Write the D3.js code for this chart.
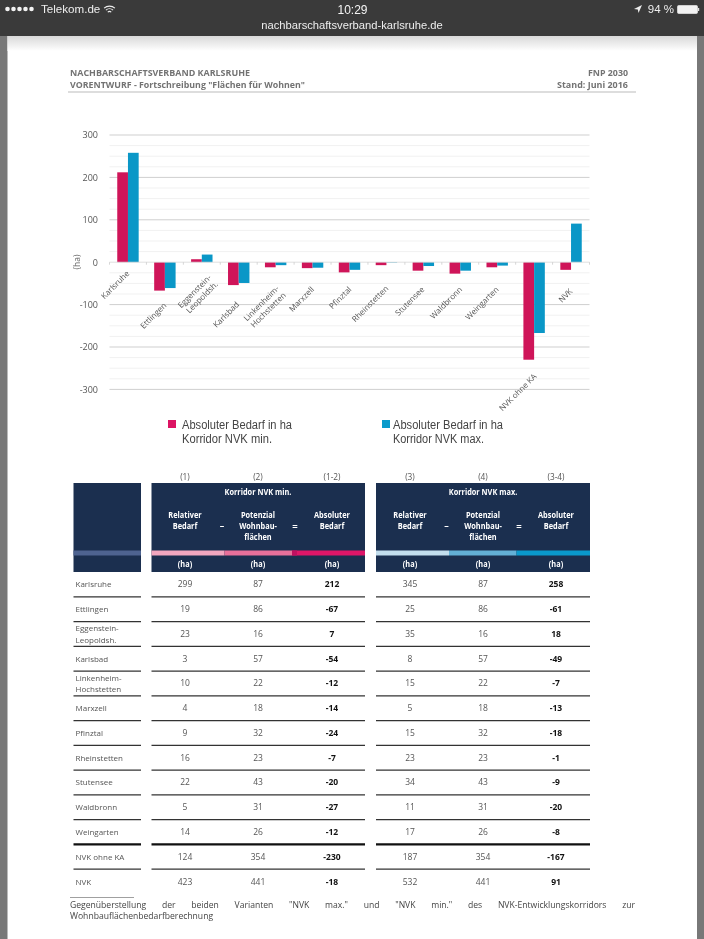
<!DOCTYPE html>
<html><head><meta charset="utf-8">
<script src="https://cdn.jsdelivr.net/npm/d3@7/dist/d3.min.js"></script>
<style>html,body{margin:0;padding:0;background:#fff}svg{display:block;filter:blur(0.35px)}</style>
</head><body><svg id="c" width="704" height="939" xmlns="http://www.w3.org/2000/svg"></svg>
<script>
// ---- data ----
const chartCategories = ["Karlsruhe","Ettlingen","Eggenstein-|Leopoldsh.","Karlsbad","Linkenheim-|Hochstetten","Marxzell","Pfinztal","Rheinstetten","Stutensee","Waldbronn","Weingarten","NVK ohne KA","NVK"];
const rowLabels = ["Karlsruhe","Ettlingen","Eggenstein-|Leopoldsh.","Karlsbad","Linkenheim-|Hochstetten","Marxzell","Pfinztal","Rheinstetten","Stutensee","Waldbronn","Weingarten","NVK ohne KA","NVK"];
const relMin = [299,19,23,3,10,4,9,16,22,5,14,124,423];
const relMax = [345,25,35,8,15,5,15,23,34,11,17,187,532];
const potenzial = [87,86,16,57,22,18,32,23,43,31,26,354,441];
const absMin = [212,-67,7,-54,-12,-14,-24,-7,-20,-27,-12,-230,-18];
const absMax = [258,-61,18,-49,-7,-13,-18,-1,-9,-20,-8,-167,91];
const yTicks = [300,200,100,0,-100,-200,-300];
const legendLabels = [["Absoluter Bedarf in ha","Korridor NVK min."],["Absoluter Bedarf in ha","Korridor NVK max."]];

// ---- layout ----
const SANS = "'Open Sans','Noto Sans',sans-serif", IOS = "'Liberation Sans',Arial,sans-serif";
const svg = d3.select("#c");
const add = (t,a,p=svg)=>{const e=p.append(t);for(const k in a)e.attr(k,a[k]);return e;};
const txt=(s,x,y,a={},p=svg)=>add("text",Object.assign({x,y,"font-family":SANS,"font-size":8.5,fill:"#3a3a3a"},a),p).text(s);

// page frame
add("rect",{x:0,y:0,width:704,height:939,fill:"#fff"});
add("rect",{x:0,y:36,width:7.5,height:903,fill:"#787878"});
add("rect",{x:697,y:36,width:7,height:903,fill:"#787878"});
const defs=svg.append("defs");
const g=defs.append("linearGradient").attr("id","sh").attr("x1",0).attr("x2",0).attr("y1",0).attr("y2",1);
g.append("stop").attr("offset",0).attr("stop-color","#d8d8d8");
g.append("stop").attr("offset",1).attr("stop-color","#fff");
add("rect",{x:7.5,y:36,width:689.5,height:15,fill:"url(#sh)"});
add("rect",{x:0,y:0,width:704,height:36,fill:"#3a3a3a"});

// status bar
const sb = svg.append("g");
d3.range(5).forEach(i=>add("circle",{cx:7.5+i*6,cy:9,r:2.3,fill:"#f2f2f2"},sb));
txt("Telekom.de",41,13,{"font-family":IOS,"font-size":11.6,fill:"#eee"},sb);
const wifi=sb.append("g").attr("transform","translate(109.5,14)").attr("fill","none").attr("stroke","#eee").attr("stroke-width",1.1);
[2.5,5.2,7.9].forEach(r=>add("path",{d:d3.arc()({innerRadius:r,outerRadius:r,startAngle:-0.75,endAngle:0.75})},wifi));
txt("10:29",352.5,13.5,{"font-family":IOS,"font-size":12,fill:"#f4f4f4","text-anchor":"middle","font-weight":"500"},sb);
txt("nachbarschaftsverband-karlsruhe.de",352,29,{"font-family":IOS,"font-size":11.2,fill:"#eee","text-anchor":"middle"},sb);
add("path",{d:"M634 9 L642 5 L638.5 13 L637.8 9.4 Z",fill:"#eee"},sb);
txt("94 %",674,13,{"font-family":IOS,"font-size":11.5,fill:"#eee","text-anchor":"end"},sb);
add("rect",{x:677.5,y:5.5,width:20,height:8,rx:1.2,fill:"#f2f2f2",stroke:"#ddd","stroke-width":.8},sb);
add("rect",{x:698,y:8,width:1.2,height:3,fill:"#ddd"},sb);

// page header
const HD={"font-weight":700,"font-size":8.8,fill:"#737373"};
txt("NACHBARSCHAFTSVERBAND KARLSRUHE",70,76,Object.assign({textLength:180,lengthAdjust:"spacingAndGlyphs"},HD));
txt('VORENTWURF - Fortschreibung "Flächen für Wohnen"',70,88,Object.assign({textLength:235,lengthAdjust:"spacingAndGlyphs"},HD));
txt("FNP 2030",628,76,Object.assign({"text-anchor":"end",textLength:40,lengthAdjust:"spacingAndGlyphs"},HD));
txt("Stand: Juni 2016",628,88,Object.assign({"text-anchor":"end",textLength:71,lengthAdjust:"spacingAndGlyphs"},HD));
add("line",{x1:68,x2:636,y1:92,y2:92,stroke:"#bbb","stroke-width":1});

// chart
const y=d3.scaleLinear().domain([-300,300]).range([389.4,135]);
const x=d3.scaleBand().domain(d3.range(chartCategories.length)).range([109.5,589.5]);
const plot=svg.append("g");
d3.range(-300,301,25).filter(v=>v%100!==0).forEach(v=>add("line",{x1:109.5,x2:589.5,y1:y(v),y2:y(v),stroke:"#f1f1f1","stroke-width":1},plot));
yTicks.filter(v=>v!==0).forEach(v=>add("line",{x1:109.5,x2:589.5,y1:y(v),y2:y(v),stroke:"#cfcfcf","stroke-width":1},plot));
const yAxis=d3.axisLeft(y).tickValues(yTicks).tickFormat(d=>String(d)).tickSize(0).tickPadding(0);
const ya=svg.append("g").attr("transform","translate(98,0)").call(yAxis);
ya.select(".domain").remove();
ya.selectAll("text").attr("font-family",SANS).attr("font-size",9).attr("fill","#555").attr("dy","0.32em");
txt("(ha)",0,0,{transform:"translate(80,262) rotate(-90)","text-anchor":"middle","font-size":8.5,fill:"#666"});

const barW=x.bandwidth()*0.29;
const series=[[absMin,"#cf1559",-1],[absMax,"#0a97c7",0]];
series.forEach(([vals,col,off])=>{
  plot.selectAll(null).data(vals).enter().append("rect")
    .attr("x",(d,i)=>x(i)+x.bandwidth()/2+off*barW)
    .attr("width",barW)
    .attr("y",d=>y(Math.max(0,d)))
    .attr("height",d=>Math.abs(y(d)-y(0)))
    .attr("fill",col);
});
add("line",{x1:109.5,x2:589.5,y1:y(0),y2:y(0),stroke:"#d8d8d8","stroke-width":.8},plot);
d3.range(chartCategories.length+1).forEach(i=>{
  const px=109.5+i*x.step();
  add("line",{x1:px,x2:px,y1:y(0),y2:y(0)+2.5,stroke:"#ccc","stroke-width":.8},plot);
});
// end point of each rotated category label (layout, relative to the band centre)
const labelEnd=[[2,274],[2,306],[10,278],[1,305],[4,289],[2,290],[2.5,290],[2.5,289],[1.5,290],[2.5,290],[2,290],[3,377],[2,292]];
chartCategories.forEach((c,i)=>{
  const cx=x(i)+x.bandwidth()/2+labelEnd[i][0], cy=labelEnd[i][1];
  const parts=c.split("|");
  const t=add("text",{transform:`translate(${cx},${cy}) rotate(-45)`,"text-anchor":"end","font-family":SANS,"font-size":8,fill:"#555"},svg);
  parts.forEach((p,j)=>t.append("tspan").attr("x",0).attr("y",j*9.5).text(p));
});

// legend
const legendX=[[168,182],[382,393]], legendCols=["#dc1463","#0a9bcb"];
legendLabels.forEach((ls,i)=>{
  add("rect",{x:legendX[i][0],y:420,width:8,height:8,fill:legendCols[i]});
  ls.forEach((s,j)=>txt(s,legendX[i][1],428.5+j*14.2,{"font-family":IOS,"font-size":12,fill:"#444",textLength:j==0?110:(i==0?90:91),lengthAdjust:"spacingAndGlyphs"}));
});

// table header
const NAVY="#1b2f4f";
const HT=483,HB=572,STT=550.5,STB=555.5;
add("rect",{x:73.5,y:HT,width:67.5,height:HB-HT,fill:NAVY});
add("rect",{x:73.5,y:STT,width:67.5,height:STB-STT,fill:"#4e6390"});
const blocks=[
 {x0:151.5,x1:365,cols:[185,258,332],seg:[151.5,224.5,292,365],c:["#f2a7bf","#e8709a","#de1668"],nums:["(1)","(2)","(1-2)"],title:"Korridor NVK min.",ops:[222,295],dark:"#c01060"},
 {x0:376,x1:590,cols:[410,483,556],seg:[376,449,516.5,590],c:["#c3deed","#63b0d6","#0a99cc"],nums:["(3)","(4)","(3-4)"],title:"Korridor NVK max.",ops:[446.5,519],dark:null}
];
const W="#fff", HF={"text-anchor":"middle","font-weight":700,fill:W,"font-size":8.4};
const head=(s,cx,cy)=>{const t=txt(s,cx,cy,HF);t.attr("textLength",t.node().getComputedTextLength()*0.88).attr("lengthAdjust","spacingAndGlyphs");};
blocks.forEach(b=>{
  add("rect",{x:b.x0,y:HT,width:b.x1-b.x0,height:HB-HT,fill:NAVY});
  b.c.forEach((c,i)=>add("rect",{x:b.seg[i],y:STT,width:b.seg[i+1]-b.seg[i],height:STB-STT,fill:c}));
  if(b.dark) add("rect",{x:b.seg[2],y:STT,width:5,height:STB-STT,fill:b.dark});
  b.nums.forEach((n,i)=>txt(n,b.cols[i],479.5,{"text-anchor":"middle","font-size":8.3,fill:"#555"}));
  head(b.title,b.cols[1],494.5);
  const heads=[["Relativer","Bedarf"],["Potenzial","Wohnbau-","flächen"],["Absoluter","Bedarf"]];
  heads.forEach((h,i)=>h.forEach((s,j)=>head(s,b.cols[i],517.5+j*11)));
  b.cols.forEach(cx=>head("(ha)",cx,566.5));
  txt("–",b.ops[0],529,{"text-anchor":"middle","font-weight":700,fill:W,"font-size":9});
  txt("=",b.ops[1],529.5,{"text-anchor":"middle","font-weight":700,fill:W,"font-size":9.5});
});

// table rows
const rowY=d3.scaleLinear().domain([0,12]).range([584.4,881.5]);
rowLabels.forEach((l,i)=>{
  const cy=rowY(i);
  const parts=l.split("|");
  parts.forEach((p,j)=>txt(p,75.5,cy+3+(j-(parts.length-1)/2)*11.5,{"font-size":8,fill:"#555"}));
  const cells=[[relMin,potenzial,absMin],[relMax,potenzial,absMax]];
  blocks.forEach((b,k)=>cells[k].forEach((arr,m)=>{
    txt(arr[i],b.cols[m],cy+3,{"text-anchor":"middle","font-size":8.5,fill:m==2?"#111":"#555","font-weight":m==2?700:400});
  }));
  if(i<12){
    const ly=cy+12.4, sw=i==10?2.4:1.3;
    [[73.5,141],[151.5,365],[376,590]].forEach(r=>add("line",{x1:r[0],x2:r[1],y1:ly,y2:ly,stroke:i==10?"#111":"#333","stroke-width":sw}));
  }
});

// footnote
add("line",{x1:70,x2:134,y1:897.5,y2:897.5,stroke:"#777","stroke-width":.7});
const foot=txt('Gegenüberstellung der beiden Varianten "NVK max." und "NVK min." des NVK-Entwicklungskorridors zur',70,907.5,{"font-size":8.6,fill:"#444"});
const fn=foot.text().split(" ").length-1;
foot.attr("word-spacing",(635-70-foot.node().getComputedTextLength())/fn);
txt("Wohnbauflächenbedarfberechnung",70,919,{"font-size":8.6,fill:"#444"});
</script></body></html>
